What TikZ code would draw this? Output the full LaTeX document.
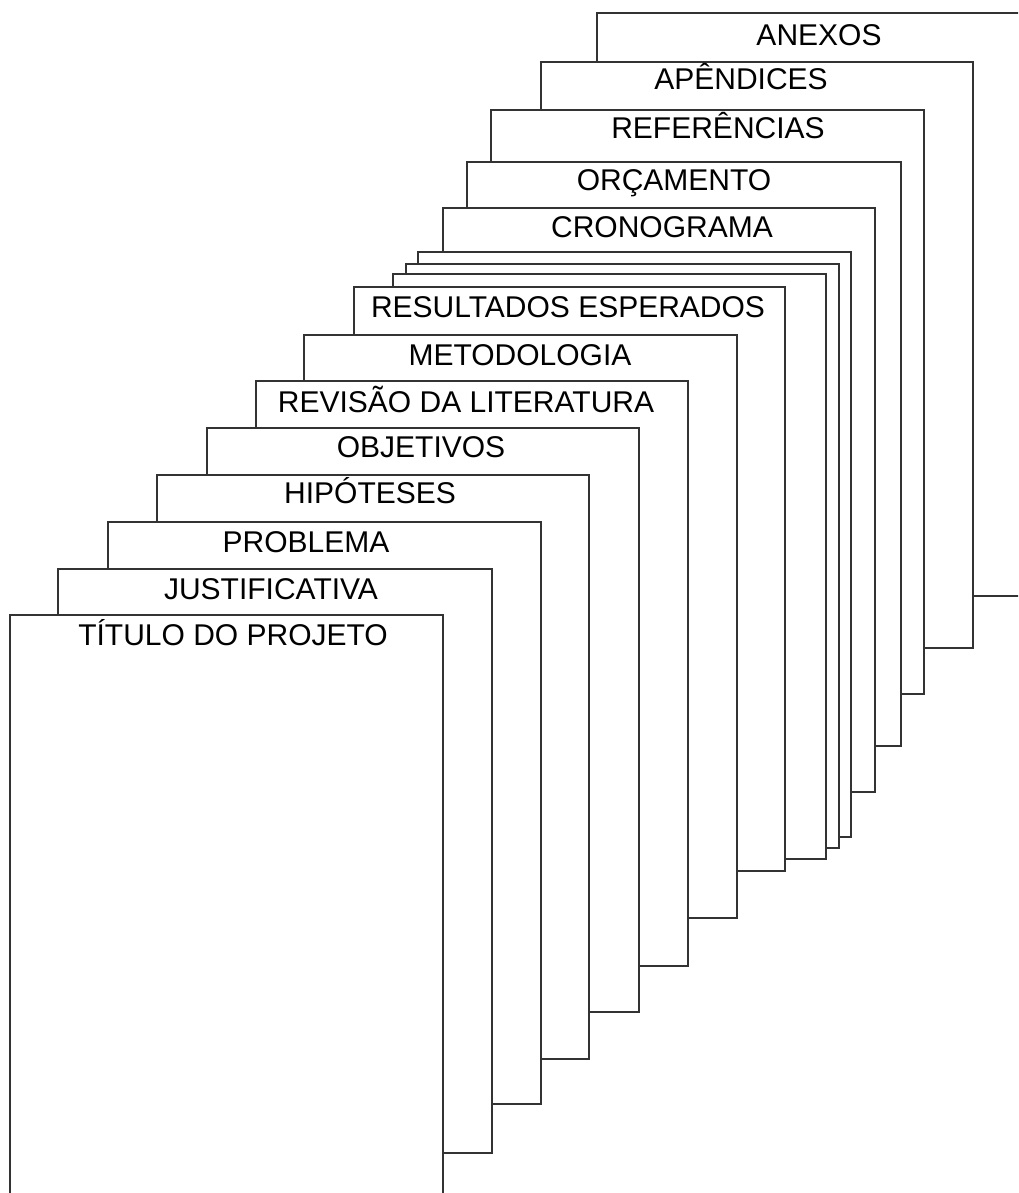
\documentclass[tikz,border=0pt]{standalone}
\usepackage{fontspec}
\setmainfont{Liberation Sans}
\begin{document}
\begin{tikzpicture}[x=1pt,y=-1pt,
  page/.style={draw=black!80,fill=white,line width=1.6pt},
  lbl/.style={font=\fontsize{30}{34}\selectfont,text=black,inner sep=0pt,anchor=base}]
\useasboundingbox (0,0) rectangle (1018,1193);
\clip (0,0) rectangle (1018,1193);
% back to front: left, top, right, bottom
\foreach \l/\t/\r/\b/\n in {
  597/13/1040/596/anexos,
  541/62/973/648/apendices,
  491/110/924/694/referencias,
  467/162/901/746/orcamento,
  443/208/875/792/cronograma,
  418/252/851/837/blankc,
  406/264/839/848/blankb,
  393/274/826/859/blanka,
  354/287/785/871/resultados,
  304/335/737/918/metodologia,
  256/381/688/966/revisao,
  207/428/639/1012/objetivos,
  157/475/589/1059/hipoteses,
  108/522/541/1104/problema,
  58/569/492/1153/justificativa,
  10/615/443/1220/titulo}
{\path[page] (\l,\t) rectangle (\r,\b) coordinate (\n);}
\node[lbl] (tanexos) at (819,46) {ANEXOS};
\node[lbl] (tapendices) at (741,90) {APÊNDICES};
\node[lbl] (treferencias) at (718,139) {REFERÊNCIAS};
\node[lbl] (torcamento) at (674,190) {ORÇAMENTO};
\node[lbl] (tcronograma) at (662,237) {CRONOGRAMA};
\node[lbl] (tresultados) at (568,317) {RESULTADOS ESPERADOS};
\node[lbl] (tmetodologia) at (520,365) {METODOLOGIA};
\node[lbl] (trevisao) at (466,412) {REVISÃO DA LITERATURA};
\node[lbl] (tobjetivos) at (421,457) {OBJETIVOS};
\node[lbl] (thipoteses) at (370,503) {HIPÓTESES};
\node[lbl] (tproblema) at (306,552) {PROBLEMA};
\node[lbl] (tjustificativa) at (271,599) {JUSTIFICATIVA};
\node[lbl] (ttitulo) at (233,645) {TÍTULO DO PROJETO};
\end{tikzpicture}
\end{document}
